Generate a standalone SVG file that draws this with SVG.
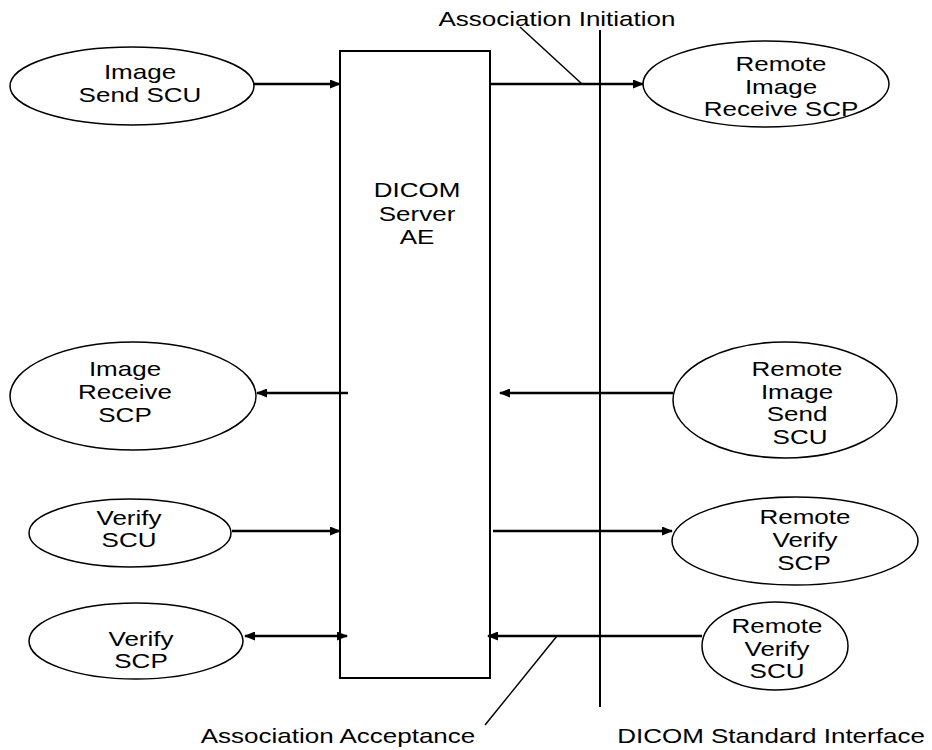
<svg xmlns="http://www.w3.org/2000/svg" width="932" height="750" viewBox="0 0 932 750">
<style>
.bg{fill:#fff}
.node{fill:#fff;stroke:#000;stroke-width:1.5}
.box{fill:#fff;stroke:#000;stroke-width:2}
.t{font-family:"Liberation Sans",Arial,sans-serif;font-size:20px;fill:#000;text-anchor:middle}
.conn{stroke:#000;stroke-width:2.5;fill:none}
.lead{stroke:#000;stroke-width:1.5;fill:none}
.iface{stroke:#000;stroke-width:2;fill:none}
</style>
<defs>
<marker id="ah" markerUnits="userSpaceOnUse" markerWidth="11" markerHeight="9" refX="10" refY="4.5" orient="auto-start-reverse" viewBox="0 0 11 9">
<path d="M0,0 L11,4.5 L0,9 z" fill="#000"/>
</marker>
</defs>
<rect class="bg" x="0" y="0" width="932" height="750"/>

<g id="server">
<rect class="box" x="340" y="51" width="150" height="627"/>
<text class="t" transform="translate(417 197) scale(1.3 1)">DICOM</text>
<text class="t" transform="translate(417 221) scale(1.3 1)">Server</text>
<text class="t" transform="translate(417 244) scale(1.3 1)">AE</text>
</g>

<g id="interface">
<line class="iface" x1="600" y1="30" x2="600" y2="707"/>
</g>

<g id="image-send-scu">
<ellipse class="node" cx="132" cy="86" rx="122" ry="39"/>
<text class="t" transform="translate(140 79) scale(1.3 1)">Image</text>
<text class="t" transform="translate(140 102) scale(1.3 1)">Send SCU</text>
</g>

<g id="image-receive-scp">
<ellipse class="node" cx="133" cy="396" rx="123" ry="54"/>
<text class="t" transform="translate(125 376) scale(1.3 1)">Image</text>
<text class="t" transform="translate(125 399) scale(1.3 1)">Receive</text>
<text class="t" transform="translate(125 422) scale(1.3 1)">SCP</text>
</g>

<g id="verify-scu">
<ellipse class="node" cx="130" cy="533" rx="101" ry="34"/>
<text class="t" transform="translate(129 525) scale(1.3 1)">Verify</text>
<text class="t" transform="translate(129 547) scale(1.3 1)">SCU</text>
</g>

<g id="verify-scp">
<ellipse class="node" cx="136" cy="641" rx="107" ry="38"/>
<text class="t" transform="translate(141 646) scale(1.3 1)">Verify</text>
<text class="t" transform="translate(141 668) scale(1.3 1)">SCP</text>
</g>

<g id="remote-image-receive-scp">
<ellipse class="node" cx="766" cy="84" rx="123" ry="43"/>
<text class="t" transform="translate(781 71) scale(1.3 1)">Remote</text>
<text class="t" transform="translate(781 94) scale(1.3 1)">Image</text>
<text class="t" transform="translate(781 116) scale(1.3 1)">Receive SCP</text>
</g>

<g id="remote-image-send-scu">
<ellipse class="node" cx="785" cy="400" rx="112" ry="58"/>
<text class="t" transform="translate(797 376) scale(1.3 1)">Remote</text>
<text class="t" transform="translate(797 399) scale(1.3 1)">Image</text>
<text class="t" transform="translate(797 421) scale(1.3 1)">Send</text>
<text class="t" transform="translate(800 444) scale(1.3 1)">SCU</text>
</g>

<g id="remote-verify-scp">
<ellipse class="node" cx="795" cy="541" rx="123" ry="44"/>
<text class="t" transform="translate(805 524) scale(1.3 1)">Remote</text>
<text class="t" transform="translate(805 547) scale(1.3 1)">Verify</text>
<text class="t" transform="translate(804 570) scale(1.3 1)">SCP</text>
</g>

<g id="remote-verify-scu">
<ellipse class="node" cx="775" cy="646" rx="73" ry="44"/>
<text class="t" transform="translate(777 633) scale(1.3 1)">Remote</text>
<text class="t" transform="translate(777 656) scale(1.3 1)">Verify</text>
<text class="t" transform="translate(777 678) scale(1.3 1)">SCU</text>
</g>

<g id="labels">
<text class="t" transform="translate(557 26) scale(1.3 1)">Association Initiation</text>
<text class="t" transform="translate(338 743) scale(1.3 1)">Association Acceptance</text>
<text class="t" transform="translate(771 743) scale(1.3 1)">DICOM Standard Interface</text>
</g>

<g id="connectors">
<line class="conn" x1="254" y1="84" x2="340" y2="84" marker-end="url(#ah)"/>
<line class="conn" x1="490" y1="84" x2="643" y2="84" marker-end="url(#ah)"/>
<line class="conn" x1="348" y1="393" x2="257" y2="393" marker-end="url(#ah)"/>
<line class="conn" x1="673" y1="393" x2="500" y2="393" marker-end="url(#ah)"/>
<line class="conn" x1="232" y1="531" x2="340" y2="531" marker-end="url(#ah)"/>
<line class="conn" x1="493" y1="531" x2="672" y2="531" marker-end="url(#ah)"/>
<line class="conn" x1="245" y1="636" x2="347" y2="636" marker-start="url(#ah)" marker-end="url(#ah)"/>
<line class="conn" x1="702" y1="636" x2="488" y2="636" marker-end="url(#ah)"/>
<line class="lead" x1="520" y1="27" x2="582" y2="84"/>
<line class="lead" x1="557" y1="636" x2="485" y2="725"/>
</g>
</svg>
